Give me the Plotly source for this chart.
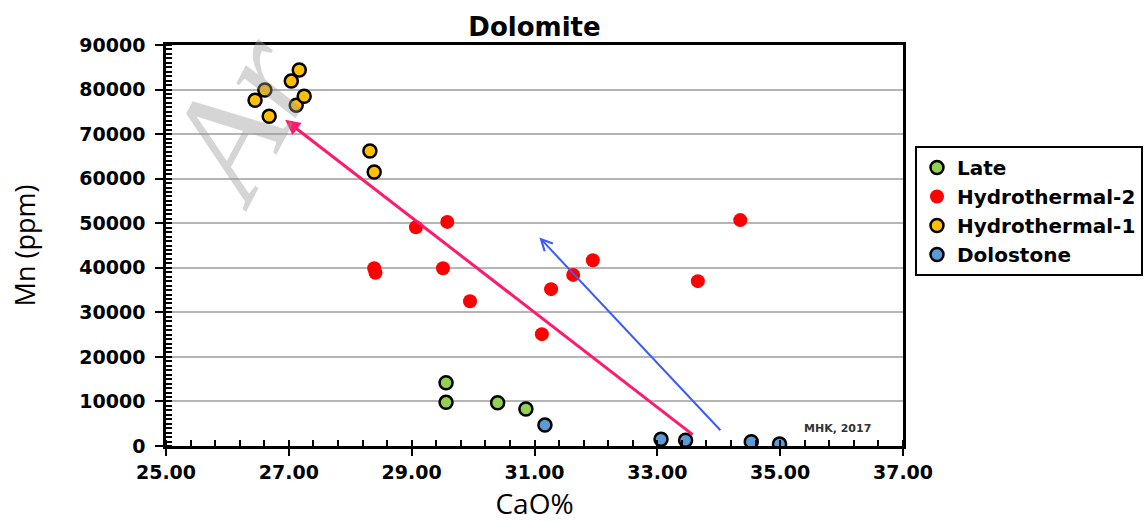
import plotly.graph_objects as go

# ---- data ----
late_cao = [29.56, 29.56, 30.40, 30.86]
late_mn = [14200, 9800, 9700, 8300]

hyd2_cao = [29.07, 29.58, 28.39, 28.41, 29.51, 29.95, 31.12, 31.27, 31.63, 31.95, 33.66, 34.35]
hyd2_mn = [49100, 50300, 39900, 38900, 39900, 32500, 25100, 35200, 38400, 41700, 37000, 50700]

hyd1_cao = [26.45, 26.61, 26.68, 27.04, 27.17, 27.12, 27.25, 28.32, 28.39]
hyd1_mn = [77600, 79900, 74000, 81900, 84400, 76500, 78500, 66200, 61500]

dolo_cao = [31.17, 33.06, 33.46, 34.53, 34.99]
dolo_mn = [4700, 1500, 1300, 960, 450]

# arrows: (tail_x, tail_y) -> (head_x, head_y)
pink_arrow = [33.6, 2300, 26.94, 73200]
blue_arrow = [34.05, 3200, 31.08, 46800]

x_range = [25, 37]
y_range = [0, 90000]

fig = go.Figure()

def add_series(name, xs, ys, fill, line_color, size=13, lw=2.5):
    fig.add_trace(go.Scatter(
        x=xs, y=ys, mode="markers", name=name,
        marker=dict(size=size, color=fill, line=dict(color=line_color, width=lw)),
    ))

add_series("Late", late_cao, late_mn, "#92d050", "black")
add_series("Hydrothermal-2", hyd2_cao, hyd2_mn, "#ff0000", "#ff0000", size=14, lw=0)
add_series("Hydrothermal-1", hyd1_cao, hyd1_mn, "#ffc000", "black")
add_series("Dolostone", dolo_cao, dolo_mn, "#5b9bd5", "black")

# arrows
fig.add_annotation(x=pink_arrow[2], y=pink_arrow[3], ax=pink_arrow[0], ay=pink_arrow[1],
                   xref="x", yref="y", axref="x", ayref="y", text="", showarrow=True,
                   arrowhead=2, arrowsize=1, arrowwidth=3, arrowcolor="#ff1a6e", standoff=0)
fig.add_annotation(x=blue_arrow[2], y=blue_arrow[3], ax=blue_arrow[0], ay=blue_arrow[1],
                   xref="x", yref="y", axref="x", ayref="y", text="", showarrow=True,
                   arrowhead=5, arrowsize=1.1, arrowwidth=2, arrowcolor="#3b5bff", standoff=0)

fig.add_annotation(x=35.94, y=4000, xref="x", yref="y", text="MHK, 2017", showarrow=False,
                   font=dict(family="DejaVu Sans", size=11, color="#333333", weight="bold"))

# watermark (kept inside the page)
fig.add_annotation(x=(238 - 166) / 737, y=(446 - 118) / 401, xref="paper", yref="paper",
                   text="Ar", showarrow=False,
                   textangle=-62, xanchor="center", yanchor="middle",
                   font=dict(family="Liberation Serif", size=150, color="rgba(150,150,150,0.40)",
                             style="italic"))

tickfont = dict(family="DejaVu Sans", size=19, color="black", weight="bold")

fig.update_layout(
    width=1148, height=522,
    margin=dict(l=166, r=245, t=45, b=76),
    paper_bgcolor="white", plot_bgcolor="white",
    title=dict(text="<b>Dolomite</b>", x=0.5, xref="paper", y=1 - 27 / 522, yref="container",
               xanchor="center", yanchor="middle",
               font=dict(family="DejaVu Sans", size=26, color="black")),
    showlegend=True,
    legend=dict(x=915 / 1148, y=1 - 146 / 522, xref="container", yref="container",
                xanchor="left", yanchor="top",
                bgcolor="white", bordercolor="black", borderwidth=2,
                font=dict(family="DejaVu Sans", size=20, color="black", weight="bold"),
                traceorder="normal"),
    xaxis=dict(range=x_range, dtick=2, tick0=25, tickformat=".2f", automargin=False,
               showgrid=False, zeroline=False,
               showline=True, linecolor="black", linewidth=2.5, mirror=True,
               ticks="outside", ticklen=7, tickwidth=2, tickcolor="black",
               minor=dict(dtick=0.4, tick0=25, ticks="inside", ticklen=6, tickwidth=2, tickcolor="black"),
               tickfont=tickfont,
               title=dict(text="CaO%", standoff=26,
                          font=dict(family="Open Sans", size=28, color="black"))),
    yaxis=dict(range=y_range, dtick=10000, tick0=0, tickformat="d", automargin=False,
               showgrid=True, gridcolor="#b5b5b5", gridwidth=2, zeroline=False,
               showline=True, linecolor="black", linewidth=2.5, mirror=True,
               ticks="outside", ticklen=8, tickwidth=2, tickcolor="black",
               ticklabelstandoff=6,
               minor=dict(dtick=1000, tick0=0, ticks="inside", ticklen=6, tickwidth=2,
                          tickcolor="black", showgrid=False),
               tickfont=tickfont,
               title=dict(text="Mn (ppm)", standoff=36,
                          font=dict(family="Open Sans", size=27, color="black"))),
)

fig.write_html("out.html", config={"displayModeBar": False},
               post_script="document.body.style.margin='0';")
